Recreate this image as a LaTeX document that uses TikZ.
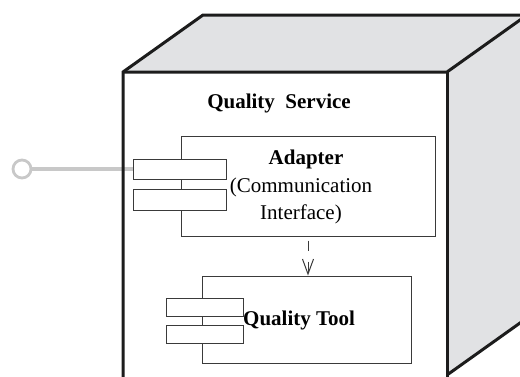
\documentclass[tikz,border=0pt]{standalone}
\usepackage{fontspec}
\setmainfont{Liberation Serif}
\usetikzlibrary{arrows.meta,calc}
\definecolor{facegrey}{HTML}{E1E2E4}
\definecolor{edgeblack}{HTML}{1C1C1C}
\definecolor{boxline}{HTML}{3A3A3A}
\definecolor{lolgrey}{HTML}{C8C8C8}
\tikzset{
  cubeedge/.style={draw=edgeblack, line width=3pt, line join=miter},
  compbox/.style={draw=boxline, line width=1pt, fill=white, inner sep=0pt, rectangle},
  portbox/.style={draw=boxline, line width=1pt, fill=white, inner sep=0pt, rectangle},
  lbl/.style={font=\fontsize{21}{27}\selectfont, inner sep=0pt, align=center},
  blbl/.style={lbl, font=\fontsize{21}{27}\selectfont\bfseries},
  dep/.style={draw=boxline, line width=1pt, dash pattern=on 10pt off 11pt, dash phase=17pt,
    -{Straight Barb[length=15pt,width=11pt,line width=1pt]}},
  lolly/.style={draw=lolgrey, line width=3.8pt},
}
\begin{document}
\begin{tikzpicture}[x=1pt,y=-1pt]
  \useasboundingbox (0,0) rectangle (520,376);
  \clip (0,0) rectangle (520,376);

  % node faces of the cube
  \fill[facegrey] (123,72) -- (203,15) -- (527,15) -- (447,72) -- cycle;
  \fill[facegrey] (447,72) -- (527,15) -- (527,318) -- (447,375) -- cycle;

  % provided interface (lollipop)
  \node[circle, draw=lolgrey, line width=2.8pt, fill=white, minimum size=18pt, inner sep=0pt] (lol) at (22,169) {};
  \coordinate (lolend) at (134,169);
  \draw[lolly] (lol.east) -- (lolend);

  % cube outline
  \draw[cubeedge] (123,380) -- (123,72) -- (203,15) -- (527,15);
  \draw[cubeedge] (123,72) -- (447,72) -- (527,15);
  \draw[cubeedge] (447,72) -- (447,380);
  \draw[cubeedge] (447,375) -- (527,318);

  \node[blbl] (qs) at (279,103) {Quality\ \ Service};

  % Adapter component
  \node[compbox, minimum width=254pt, minimum height=100pt] (adapter) at (308,186) {};
  \node[portbox, minimum width=93pt, minimum height=20pt] (ap1) at (179.5,169) {};
  \node[portbox, minimum width=93pt, minimum height=21pt] (ap2) at (179.5,199.5) {};
  \node[blbl] (adtitle) at (306,159) {Adapter};
  \node[lbl] (adsub) at (301,201) {(Communication\\Interface)};

  % Quality Tool component
  \node[compbox, minimum width=209pt, minimum height=87pt] (qtool) at (306.5,319.5) {};
  \node[portbox, minimum width=77pt, minimum height=18pt] (qp1) at (204.5,307) {};
  \node[portbox, minimum width=77pt, minimum height=18pt] (qp2) at (204.5,334) {};
  \node[blbl, anchor=west] (qttitle) at (243,320) {Quality Tool};

  % dependency
  \draw[dep] (adapter.south) -- (adapter.south |- qtool.north);
\end{tikzpicture}
\end{document}
